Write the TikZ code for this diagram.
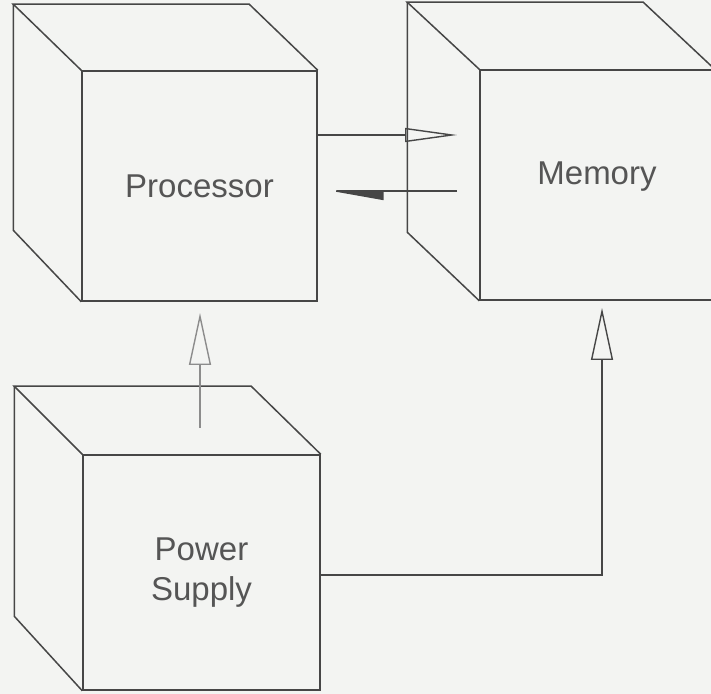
\documentclass[tikz,border=0pt]{standalone}
\usepackage{fontspec}
\setmainfont{Liberation Sans}
\usetikzlibrary{arrows.meta,calc}
\definecolor{paper}{RGB}{243,244,242}
\definecolor{ink}{RGB}{70,70,70}
\definecolor{txt}{RGB}{85,85,85}
\definecolor{faint}{RGB}{140,140,140}
\tikzset{
  edge/.style={draw=ink, line width=0.75pt},
  face/.style={edge, rectangle, inner sep=0pt, font=\fontsize{16.5}{20}\selectfont, text=txt, align=center},
  flow/.style={draw=ink, line width=0.8pt},
  bighead/.style={-{Triangle[open, length=26pt, width=11pt, line width=0.7pt]}},
  sidehead/.style={-{Triangle[open, length=26pt, width=7pt, line width=0.7pt]}},
  barbhead/.style={-{Triangle[harpoon, length=26pt, width=9pt]}}
}
\begin{document}
\begin{tikzpicture}[x=0.5pt, y=-0.5pt]
\fill[paper] (0,0) rectangle (711,694);
\clip (0,0) rectangle (711,694);

% Processor cube
\node[face, minimum width=117.5pt, minimum height=115pt] (proc) at (199.5,186) {Processor};
\draw[edge] (proc.north west) -- ++(-68,-66) coordinate (pbtl) -- ++(236,0) coordinate (pbtr) -- (proc.north east);
\draw[edge] (pbtl) -- ++(0,226) coordinate (pbbl) -- (proc.south west);

% Memory cube
\node[face, minimum width=117pt, minimum height=115pt] (mem) at (597,185) {};
\node[font=\fontsize{16.5}{20}\selectfont, text=txt] (memlabel) at (597,177) {Memory};
\draw[edge] (mem.north west) -- ++(-72,-67) coordinate (mbtl) -- ++(236,0) coordinate (mbtr) -- (mem.north east);
\draw[edge] (mbtl) -- ++(0,230) coordinate (mbbl) -- (mem.south west);

% Power supply cube
\node[face, minimum width=118.5pt, minimum height=117.5pt] (pow) at (201.5,572.5) {Power\\Supply};
\draw[edge] (pow.north west) -- ++(-68,-68) coordinate (sbtl) -- ++(237,0) coordinate (sbtr) -- (pow.north east);
\draw[edge] (sbtl) -- ++(0,230) coordinate (sbbl) -- (pow.south west);

% Processor <-> Memory
\coordinate (toptip) at (457,135);
\coordinate (botstart) at (457,191);
\coordinate (bottip) at (327,191);
\draw[flow, sidehead] (proc.east |- toptip) -- (toptip);
\draw[flow, barbhead] (botstart) -- (bottip);

% Power -> Processor
\coordinate (pstart) at (200,428);
\coordinate (ptip) at (200,313);
\draw[flow, draw=faint, line width=1.2pt, bighead] (pstart) -- (ptip);

% Power -> Memory
\coordinate (mtip) at (602,308);
\draw[flow, bighead] (pow.east |- 0,575) -| (mtip);
\end{tikzpicture}
\end{document}
